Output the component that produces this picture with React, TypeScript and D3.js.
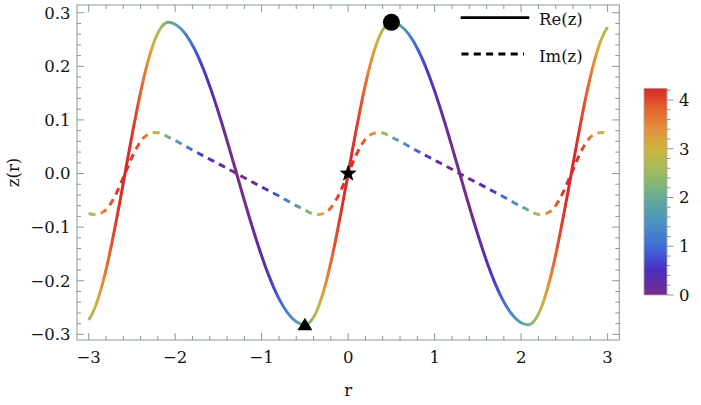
import React from 'react';
import * as d3 from 'd3';

// sample positions along r
const rVals = [
  -3.00, -2.98, -2.93, -2.88, -2.83, -2.78, -2.73, -2.68, -2.63, -2.58, -2.53, -2.48, -2.43, -2.38, -2.33, -2.28, -2.23, -2.18, -2.13, -2.08,
  -1.98, -1.88, -1.78, -1.68, -1.58, -1.48, -1.38, -1.29, -1.20, -1.10, -1.00, -0.90, -0.80, -0.70, -0.60,
  -0.50, -0.45, -0.40, -0.35, -0.30, -0.25, -0.20, -0.15, -0.10, -0.05, 0.00, 0.05, 0.10, 0.15, 0.20, 0.25, 0.30, 0.35, 0.40, 0.45, 0.50,
  0.60, 0.70, 0.80, 0.90, 1.00, 1.10, 1.20, 1.29, 1.38, 1.48, 1.58, 1.68, 1.78, 1.88, 1.98,
  2.08, 2.13, 2.18, 2.23, 2.28, 2.33, 2.38, 2.43, 2.48, 2.53, 2.58, 2.63, 2.68, 2.73, 2.78, 2.83, 2.88, 2.93, 2.98, 3.00,
];

const reVals = [
  -0.2731, -0.2682, -0.2513, -0.2281, -0.1994, -0.1658, -0.1280, -0.0871, -0.0441, 0, 0.0441, 0.0871, 0.1280, 0.1658, 0.1994, 0.2281, 0.2513, 0.2682, 0.2785, 0.282,
  0.2764, 0.2600, 0.2333, 0.1974, 0.1537, 0.1040, 0.0503, 0, -0.0503, -0.1040, -0.1537, -0.1974, -0.2333, -0.2600, -0.2764,
  -0.282, -0.2785, -0.2682, -0.2513, -0.2281, -0.1994, -0.1658, -0.1280, -0.0871, -0.0441, 0, 0.0441, 0.0871, 0.1280, 0.1658, 0.1994, 0.2281, 0.2513, 0.2682, 0.2785, 0.282,
  0.2764, 0.2600, 0.2333, 0.1974, 0.1537, 0.1040, 0.0503, 0, -0.0503, -0.1040, -0.1537, -0.1974, -0.2333, -0.2600, -0.2764,
  -0.282, -0.2785, -0.2682, -0.2513, -0.2281, -0.1994, -0.1658, -0.1280, -0.0871, -0.0441, 0, 0.0441, 0.0871, 0.1280, 0.1658, 0.1994, 0.2281, 0.2513, 0.2682, 0.2731,
];

const imVals = [
  -0.0745, -0.0755, -0.0765, -0.0752, -0.0715, -0.064, -0.052, -0.037, -0.019, 0, 0.019, 0.037, 0.052, 0.064, 0.0715, 0.0752, 0.0765, 0.0755, 0.0725, 0.068,
  0.060, 0.051, 0.042, 0.0335, 0.025, 0.0165, 0.008, 0, -0.008, -0.0165, -0.025, -0.0335, -0.042, -0.051, -0.060,
  -0.068, -0.0725, -0.0755, -0.0765, -0.0752, -0.0715, -0.064, -0.052, -0.037, -0.019, 0, 0.019, 0.037, 0.052, 0.064, 0.0715, 0.0752, 0.0765, 0.0755, 0.0725, 0.068,
  0.060, 0.051, 0.042, 0.0335, 0.025, 0.0165, 0.008, 0, -0.008, -0.0165, -0.025, -0.0335, -0.042, -0.051, -0.060,
  -0.068, -0.0725, -0.0755, -0.0765, -0.0752, -0.0715, -0.064, -0.052, -0.037, -0.019, 0, 0.019, 0.037, 0.052, 0.064, 0.0715, 0.0752, 0.0765, 0.0755, 0.0745,
];

const colorVals = [
  2.5, 2.6, 2.9, 3.2, 3.5, 3.75, 3.95, 4.1, 4.2, 4.24, 4.2, 4.1, 3.95, 3.75, 3.5, 3.2, 2.9, 2.6, 2.35, 2.08,
  1.70, 1.30, 0.93, 0.61, 0.34, 0.15, 0.03, 0, 0.03, 0.15, 0.34, 0.61, 0.93, 1.30, 1.70,
  2.08, 2.35, 2.6, 2.9, 3.2, 3.5, 3.75, 3.95, 4.1, 4.2, 4.24, 4.2, 4.1, 3.95, 3.75, 3.5, 3.2, 2.9, 2.6, 2.35, 2.08,
  1.70, 1.30, 0.93, 0.61, 0.34, 0.15, 0.03, 0, 0.03, 0.15, 0.34, 0.61, 0.93, 1.30, 1.70,
  2.08, 2.35, 2.6, 2.9, 3.2, 3.5, 3.75, 3.95, 4.1, 4.2, 4.24, 4.2, 4.1, 3.95, 3.75, 3.5, 3.2, 2.9, 2.6, 2.5,
];

const xTicks = [-3, -2, -1, 0, 1, 2, 3];
const yTicks = [-0.3, -0.2, -0.1, 0, 0.1, 0.2, 0.3];
const cbTicks = [0, 1, 2, 3, 4];
const colorMax = 4.24;

const markerR = [0.5, 0, -0.5];
const markerZ = [0.282, 0, -0.282];
const markerShape = ['circle', 'star', 'triangle'];

const legendLabels = ['Re(z)', 'Im(z)'];

const rainbowT = [0, 0.12, 0.24, 0.36, 0.47, 0.58, 0.70, 0.80, 0.90, 1.0];
const rainbowC = ['#782a89', '#4a2dc4', '#3f6fd8', '#4b95c0', '#68ab94', '#96bc62', '#cdb542', '#e49339', '#e4632f', '#d8282a'];

const FONT = "'DejaVu Serif', serif";
const FRAME = '#8a9797';

export default function App() {
  const W = 701, H = 405;
  const left = 77, right = 619.3, top = 5, bottom = 340;
  const x = d3.scaleLinear().domain([-3.135, 3.135]).range([left, right]);
  const y = d3.scaleLinear().domain([-0.3106, 0.3144]).range([bottom, top]);
  const cmap = d3.scaleLinear<string>().domain(rainbowT.map(t => t * colorMax)).range(rainbowC).interpolate(d3.interpolateRgb);

  const pts = rVals.map((r, i) => ({ r, re: reVals[i], im: imVals[i], c: colorVals[i] }));
  const reLine = d3.line<any>().x(d => x(d.r)).y(d => y(d.re)).curve(d3.curveMonotoneX);
  const imLine = d3.line<any>().x(d => x(d.r)).y(d => y(d.im)).curve(d3.curveMonotoneX);

  const gx1 = x(rVals[0]), gx2 = x(rVals[rVals.length - 1]);

  const fmt = d3.format('.1f');
  const xMinor = d3.range(-3.0, 3.01, 0.2).filter(v => Math.abs(v - Math.round(v)) > 1e-6);
  const yMinor = d3.range(-0.30, 0.301, 0.02).filter(v => Math.abs(v * 10 - Math.round(v * 10)) > 1e-6);

  // colorbar
  const cbL = 644, cbR = 667;
  const cb = d3.scaleLinear().domain([0, colorMax]).range([295, 88.3]);
  const cbMinor = d3.range(0, 4.21, 0.2).filter(v => Math.abs(v - Math.round(v)) > 1e-6);

  const starPath = (cx: number, cy: number, R: number, rr: number) => {
    const p: [number, number][] = [];
    for (let i = 0; i < 10; i++) {
      const a = -Math.PI / 2 + i * Math.PI / 5;
      const rad = i % 2 === 0 ? R : rr;
      p.push([cx + rad * Math.cos(a), cy + rad * Math.sin(a)]);
    }
    return 'M' + p.map(q => q.join(',')).join('L') + 'Z';
  };

  return (
    <svg width={W} height={H} style={{ position: 'absolute', left: 0, top: 0, background: '#fff' }} fontFamily={FONT}>
      <defs>
        <linearGradient id="curveGrad" gradientUnits="userSpaceOnUse" x1={gx1} y1={0} x2={gx2} y2={0}>
          {pts.map((p, i) => (
            <stop key={i} offset={(x(p.r) - gx1) / (gx2 - gx1)} stopColor={cmap(p.c)} />
          ))}
        </linearGradient>
        <linearGradient id="cbGrad" x1="0" y1="1" x2="0" y2="0">
          {rainbowT.map((t, i) => (
            <stop key={i} offset={t} stopColor={rainbowC[i]} />
          ))}
        </linearGradient>
      </defs>

      {/* curves */}
      <path d={imLine(pts) || ''} fill="none" stroke="url(#curveGrad)" strokeWidth={3} strokeDasharray="7,5.3" />
      <path d={reLine(pts) || ''} fill="none" stroke="url(#curveGrad)" strokeWidth={3} strokeLinejoin="round" />

      {/* markers */}
      {markerR.map((r, i) => {
        const cx = x(r), cy = y(markerZ[i]);
        if (markerShape[i] === 'circle') return <circle key={i} cx={cx} cy={cy} r={8.5} fill="#000" />;
        if (markerShape[i] === 'star') return <path key={i} d={starPath(cx, cy, 9, 3.7)} fill="#000" />;
        return <path key={i} d={`M${cx},${cy - 7}L${cx + 7.5},${cy + 5.5}L${cx - 7.5},${cy + 5.5}Z`} fill="#000" />;
      })}

      {/* frame */}
      <rect x={left} y={top} width={right - left} height={bottom - top} fill="none" stroke={FRAME} strokeWidth={1} />
      {xTicks.map(t => (
        <g key={'xt' + t}>
          <line x1={x(t)} x2={x(t)} y1={bottom} y2={bottom - 7} stroke={FRAME} />
          <line x1={x(t)} x2={x(t)} y1={top} y2={top + 7} stroke={FRAME} />
          <text x={x(t)} y={363} textAnchor="middle" fontSize={16.5} fill="#111">{d3.format('d')(t)}</text>
        </g>
      ))}
      {xMinor.map((t, i) => (
        <g key={'xm' + i}>
          <line x1={x(t)} x2={x(t)} y1={bottom} y2={bottom - 4} stroke={FRAME} />
          <line x1={x(t)} x2={x(t)} y1={top} y2={top + 4} stroke={FRAME} />
        </g>
      ))}
      {yTicks.map(t => (
        <g key={'yt' + t}>
          <line x1={left} x2={left + 7} y1={y(t)} y2={y(t)} stroke={FRAME} />
          <line x1={right} x2={right - 7} y1={y(t)} y2={y(t)} stroke={FRAME} />
          <text x={70.5} y={y(t)} dy="0.36em" textAnchor="end" fontSize={16.5} fill="#111">{fmt(t)}</text>
        </g>
      ))}
      {yMinor.map((t, i) => (
        <g key={'ym' + i}>
          <line x1={left} x2={left + 4} y1={y(t)} y2={y(t)} stroke={FRAME} />
          <line x1={right} x2={right - 4} y1={y(t)} y2={y(t)} stroke={FRAME} />
        </g>
      ))}

      {/* axis labels */}
      <text x={x(0)} y={396} textAnchor="middle" fontSize={16.5} fill="#111">r</text>
      <text transform={`translate(19,${(top + bottom) / 2}) rotate(-90)`} textAnchor="middle" fontSize={16.5} fill="#111">z(r)</text>

      {/* legend */}
      <line x1={460.7} x2={529.3} y1={17.7} y2={17.7} stroke="#000" strokeWidth={2.8} />
      <text x={539} y={25} fontSize={16.5} fill="#111">{legendLabels[0]}</text>
      <line x1={461.5} x2={524} y1={54} y2={54} stroke="#000" strokeWidth={2.8} strokeDasharray="7,5.3" />
      <text x={539} y={61.5} fontSize={16.5} fill="#111">{legendLabels[1]}</text>

      {/* colorbar */}
      <rect x={cbL} y={cb(colorMax)} width={cbR - cbL} height={cb(0) - cb(colorMax)} fill="url(#cbGrad)" stroke="#aaa" strokeWidth={0.8} />
      {cbTicks.map(t => (
        <g key={'cb' + t}>
          <line x1={cbR} x2={cbR + 6.5} y1={cb(t)} y2={cb(t)} stroke={FRAME} />
          <text x={679} y={cb(t)} dy="0.36em" fontSize={16.5} fill="#111">{t}</text>
        </g>
      ))}
      {cbMinor.map((t, i) => (
        <line key={'cbm' + i} x1={cbR} x2={cbR + 3.5} y1={cb(t)} y2={cb(t)} stroke={FRAME} />
      ))}
    </svg>
  );
}
